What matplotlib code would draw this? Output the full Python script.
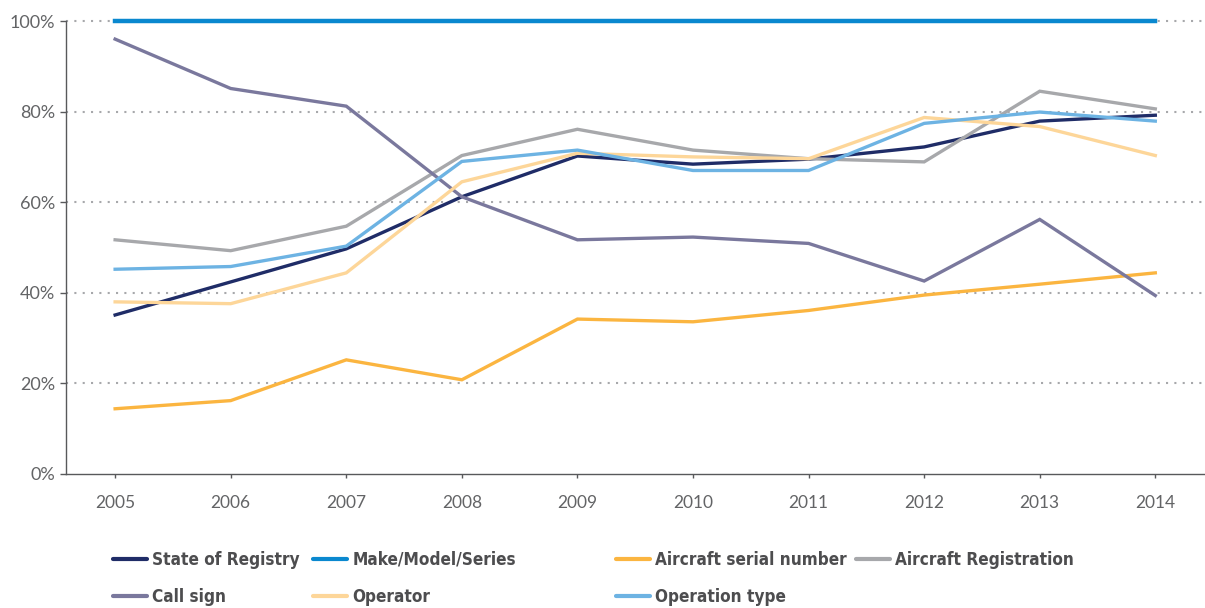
import matplotlib.pyplot as plt
from matplotlib.lines import Line2D

years = [2005, 2006, 2007, 2008, 2009, 2010, 2011, 2012, 2013, 2014]

state_of_registry = [35.1, 42.4, 49.7, 61.2, 70.2, 68.4, 69.5, 72.2, 77.9, 79.2]
make_model_series = [100, 100, 100, 100, 100, 100, 100, 100, 100, 100]
serial_number = [14.4, 16.2, 25.2, 20.8, 34.2, 33.6, 36.1, 39.5, 41.9, 44.4]
aircraft_registration = [51.7, 49.3, 54.7, 70.3, 76.1, 71.5, 69.6, 68.9, 84.5, 80.6]
call_sign = [96.0, 85.1, 81.2, 61.2, 51.7, 52.3, 50.9, 42.6, 56.2, 39.4]
operator = [38.0, 37.6, 44.4, 64.5, 70.8, 70.0, 69.6, 78.7, 76.7, 70.3]
operation_type = [45.2, 45.8, 50.3, 69.0, 71.5, 67.0, 67.0, 77.4, 79.9, 77.9]

series = [
    ("State of Registry", state_of_registry, "#1f2c67"),
    ("Make/Model/Series", make_model_series, "#0a88cf"),
    ("Aircraft serial number", serial_number, "#fbb540"),
    ("Aircraft Registration", aircraft_registration, "#a7a8ab"),
    ("Call sign", call_sign, "#7a789d"),
    ("Operator", operator, "#fdd699"),
    ("Operation type", operation_type, "#6db3e3"),
]

tick_font = ['Lato', 'DejaVu Sans']

fig = plt.figure(figsize=(12.05, 6.08), dpi=100)
ax = fig.add_axes([66 / 1205, 1 - 474 / 608, 1 - 66 / 1205, (474 - 21) / 608])

for y in [20, 40, 60, 80, 100]:
    ax.axhline(y, color="#a7a8ab", lw=1.5, linestyle=(0, (1, 3)), zorder=0, clip_on=False)

for name, vals, col in series:
    lw = 3.2 if name == "Make/Model/Series" else 2.4
    z = 5 if name == "Make/Model/Series" else 3
    ax.plot(years, vals, color=col, lw=lw, label=name, zorder=z, clip_on=False,
            solid_joinstyle='miter')

ax.set_xlim(2004.575, 2014.43)
ax.set_ylim(0, 100)
ax.set_xticks(years)
ax.set_xticklabels([str(y) for y in years])
ax.set_yticks([0, 20, 40, 60, 80, 100])
ax.set_yticklabels(["0%", "20%", "40%", "60%", "80%", "100%"])

for s in ["top", "right"]:
    ax.spines[s].set_visible(False)
for s in ["left", "bottom"]:
    ax.spines[s].set_color("#58595b")
    ax.spines[s].set_linewidth(1.0)

ax.tick_params(axis='y', length=4, width=1, color="#58595b", pad=4, labelcolor="#636466", labelsize=13)
ax.tick_params(axis='x', length=3, width=1, color="#58595b", pad=12, labelcolor="#636466", labelsize=12.5)
for lab in ax.get_xticklabels() + ax.get_yticklabels():
    lab.set_family(tick_font)
    lab.set_fontweight('normal')

# legend: four columns, each placed where the reference puts it
columns = [[0, 4], [1, 5], [2, 6], [3]]
col_x = [113, 313, 616, 856]
for cx, idxs in zip(col_x, columns):
    handles = [Line2D([], [], color=series[i][2], lw=3.0, solid_capstyle='round') for i in idxs]
    labels = [series[i][0] for i in idxs]
    leg = fig.legend(handles, labels, loc='upper left', bbox_to_anchor=(cx / 1205, 1 - 551 / 608),
                     frameon=False, handlelength=2.0, handletextpad=0.3, labelspacing=1.1,
                     borderpad=0, borderaxespad=0,
                     prop={'family': 'DejaVu Sans', 'weight': 'bold', 'stretch': 'condensed', 'size': 12.3})
    for t in leg.get_texts():
        t.set_color("#4d4d4f")

fig.savefig("out.png", dpi=100)
